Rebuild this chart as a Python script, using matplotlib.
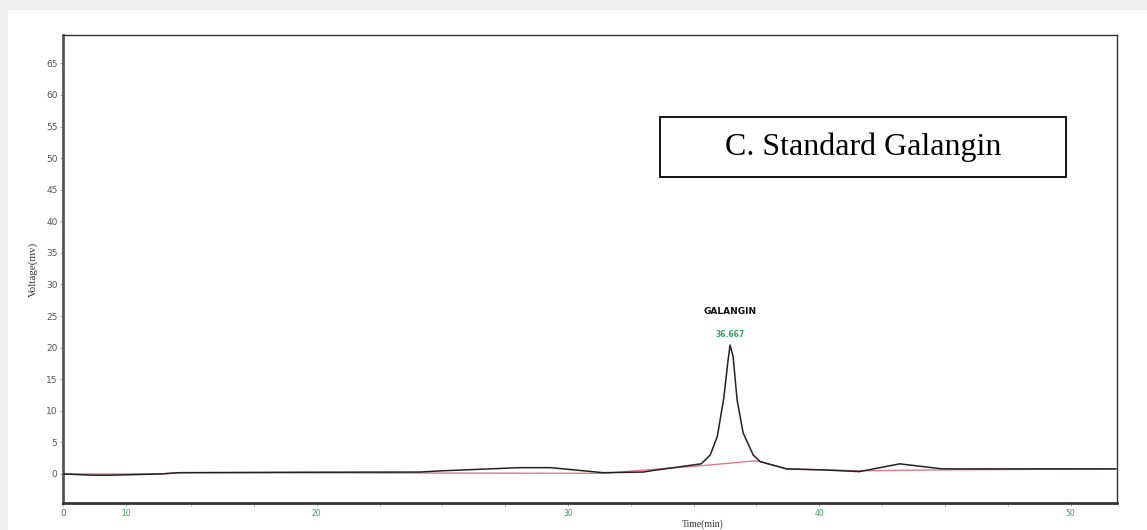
import matplotlib
matplotlib.use("Agg")
import matplotlib.pyplot as plt
from matplotlib.patches import Rectangle

# ---- data ----
time_min = [9.9, 11.1, 11.8, 13.8, 14.5, 19.3, 24.1, 25.0, 28.1, 29.3, 31.4, 33.0,
            33.3, 35.3, 35.66, 35.94, 36.2, 36.37, 36.45, 36.57, 36.73, 36.97,
            37.37, 37.65, 38.7, 40.2, 41.6, 43.2, 44.9, 51.8]
signal_mv = [0.0, -0.2, -0.2, 0.0, 0.2, 0.27, 0.3, 0.5, 1.0, 1.0, 0.2, 0.3,
             0.5, 1.6, 3.0, 5.9, 12.0, 18.0, 20.4, 18.6, 11.7, 6.5,
             3.0, 1.95, 0.8, 0.63, 0.37, 1.6, 0.8, 0.8]

base_time = [9.9, 13.8, 14.5, 31.4, 33.0, 35.3, 37.4, 37.65, 38.7, 41.6, 44.9, 51.8]
base_mv = [0.0, 0.0, 0.2, 0.1, 0.6, 1.3, 2.06, 1.95, 0.8, 0.5, 0.65, 0.8]

y_ticks = list(range(0, 70, 5))
x_tick_pos = [9.9, 12.4, 20, 30, 40, 50]
x_tick_lab = ["0", "10", "20", "30", "40", "50"]
minor_x = [12.4, 15, 17.5, 22.5, 25, 27.5, 32.5, 35, 37.5, 42.5, 45, 47.5, 50]

peak_name = "GALANGIN"
peak_rt = "36.667"
peak_time = 36.45
peak_height = 20.4
title_text = "C. Standard Galangin"

W, H = 1147, 530
fig = plt.figure(figsize=(W / 100, H / 100), dpi=100, facecolor="#eeeeee")
fig.patches.append(Rectangle((8 / W, 0), 1 - 8 / W, 1 - 10 / H, transform=fig.transFigure,
                             facecolor="white", edgecolor="none", zorder=-10))

ax = fig.add_axes([63 / W, (H - 503) / H, (1117 - 63) / W, (503 - 35) / H])
ax.set_zorder(1)
ax.set_facecolor("white")
ax.plot(base_time, base_mv, color="#e07a8a", lw=1.0, zorder=2)
ax.plot(time_min, signal_mv, color="#222222", lw=1.1, zorder=3)

ax.set_xlim(9.9, 51.85)
ax.set_ylim(-4.6, 69.5)

ax.set_yticks(y_ticks)
ax.set_yticklabels([str(v) for v in y_ticks], fontsize=6.5, color="#555555",
                   family="DejaVu Sans")
ax.tick_params(axis="y", length=2, width=0.6, color="#999999", pad=2)

ax.set_xticks(x_tick_pos)
ax.set_xticklabels(x_tick_lab, fontsize=5.5, family="DejaVu Sans")
for lab in ax.get_xticklabels():
    lab.set_color("#3aa065")
ax.get_xticklabels()[0].set_color("#666666")
ax.get_xticklabels()[0].set_fontsize(6.5)
ax.set_xticks(minor_x, minor=True)
ax.tick_params(axis="x", which="both", length=2, width=0.6, color="#999999", pad=2)

for s in ax.spines.values():
    s.set_color("#333333")
    s.set_linewidth(1.0)
ax.spines["left"].set_linewidth(2.0)
ax.spines["left"].set_color("#555555")
ax.spines["bottom"].set_linewidth(2.0)

ax.set_ylabel("Voltage(mv)", fontsize=8, family="Liberation Serif", color="#333333",
              labelpad=2)
ax.yaxis.set_label_coords(-0.024, 0.5)
fig.text(703 / W, 1 - 524 / H, "Time(min)", fontsize=7, family="Liberation Serif",
         color="#333333", ha="center", va="center", zorder=3)

ax.annotate(peak_name, (peak_time, peak_height), xytext=(0, 24.5), textcoords="offset points",
            ha="center", va="center", fontsize=6.5, fontweight="bold", color="#111111",
            family="DejaVu Sans")
ax.annotate(peak_rt, (peak_time, peak_height), xytext=(0, 7.5), textcoords="offset points",
            ha="center", va="center", fontsize=5.5, fontweight="bold", color="#3aa065",
            family="DejaVu Sans")

# title box
bx0, bx1, by0, by1 = 660, 1066, 117, 177
fig.patches.append(Rectangle((bx0 / W, 1 - by1 / H), (bx1 - bx0) / W, (by1 - by0) / H,
                             transform=fig.transFigure, facecolor="white",
                             edgecolor="black", lw=1.3, zorder=5))
fig.text((bx0 + bx1) / 2 / W, 1 - (by0 + by1) / 2 / H, title_text, fontsize=23,
         family="Liberation Serif", ha="center", va="center", color="black", zorder=6)

fig.savefig("out.png", dpi=100, facecolor=fig.get_facecolor())
